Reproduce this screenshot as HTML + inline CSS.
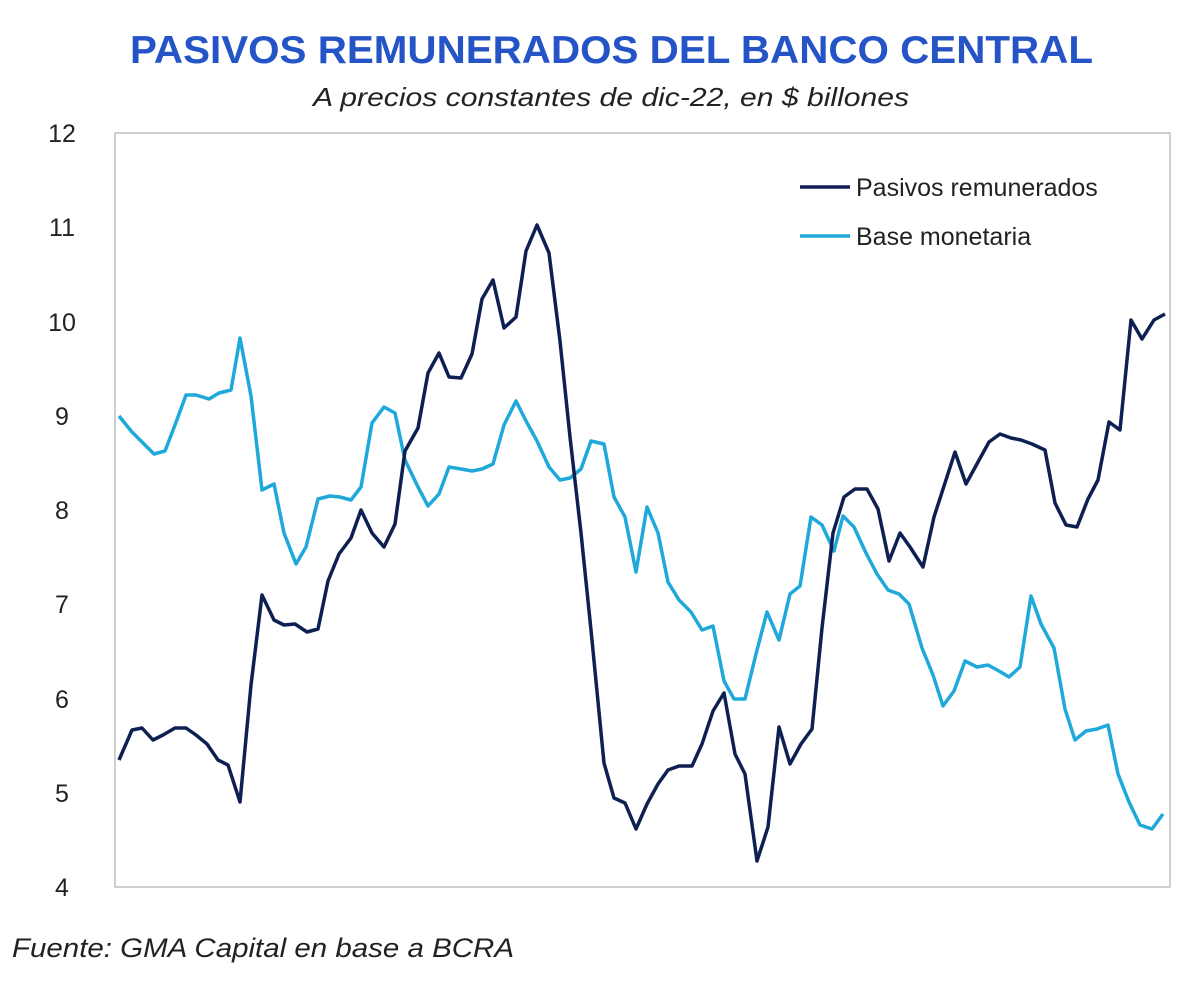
<!DOCTYPE html>
<html><head><meta charset="utf-8"><style>
html,body{margin:0;padding:0;background:#fff;}
svg{display:block;font-family:"Liberation Sans",sans-serif;}
</style></head><body>
<svg width="1200" height="985" viewBox="0 0 1200 985" xmlns="http://www.w3.org/2000/svg">
<rect width="1200" height="985" fill="#fff"/>
<text x="130" y="63" font-size="39" font-weight="bold" fill="#2454c6" textLength="963" lengthAdjust="spacingAndGlyphs">PASIVOS REMUNERADOS DEL BANCO CENTRAL</text>
<text x="313" y="106" font-size="26" font-style="italic" fill="#222" textLength="596" lengthAdjust="spacingAndGlyphs">A precios constantes de  dic-22, en $ billones</text>
<rect x="115" y="133" width="1055" height="754" fill="none" stroke="#d0d0d0" stroke-width="2"/>
<g font-size="25" fill="#222" text-anchor="middle">
<text x="62" y="142">12</text><text x="62" y="236">11</text><text x="62" y="331">10</text>
<text x="62" y="425">9</text><text x="62" y="519">8</text><text x="62" y="613">7</text>
<text x="62" y="708">6</text><text x="62" y="802">5</text><text x="62" y="896">4</text>
</g>
<polyline fill="none" stroke="#1fa8da" stroke-width="3.5" stroke-linejoin="round" points="119,416 132,432 144,444 154,454 165,451 175,425 186,395 196,395 209,399 219,393 231,390 240,338 251,396 262,490 274,484 284,533 296,564 306,547 318,499 330,496 340,497 351,500 361,487 372,423 384,407 395,413 405,460 418,487 428,506 439,494 449,467 461,469 472,471 482,469 493,464 504,425 516,401 526,421 537,441 549,467 560,480 570,478 581,469 591,441 604,444 614,497 625,517 636,572 647,507 658,533 668,582 679,600 691,612 702,630 713,626 724,681 734,699 745,699 756,654 767,612 779,640 790,594 800,586 811,517 822,525 834,551 843,516 854,527 866,553 877,574 888,590 899,594 909,604 922,648 933,675 943,706 954,691 965,661 977,667 988,665 999,671 1009,677 1020,667 1031,596 1041,624 1054,648 1065,709 1075,740 1086,731 1097,729 1108,725 1118,774 1129,802 1140,825 1152,829 1163,814"/>
<polyline fill="none" stroke="#0e1f52" stroke-width="3.5" stroke-linejoin="round" points="119,760 132,730 142,728 153,740 163,735 175,728 186,728 196,735 207,744 218,760 228,765 240,802 251,685 262,595 274,620 284,625 295,624 307,632 318,629 328,581 339,554 351,538 361,510 372,533 384,547 395,524 405,451 418,428 428,373 439,353 449,377 461,378 472,354 482,299 493,280 504,328 516,317 526,251 537,225 549,253 560,341 570,437 581,533 591,630 604,763 614,798 625,803 636,829 647,804 658,784 668,770 679,766 692,766 702,744 713,711 724,693 735,754 745,774 757,861 768,827 779,727 790,764 801,744 812,729 822,628 833,533 844,497 855,489 867,489 878,509 889,561 900,533 910,547 923,567 934,517 955,452 966,484 978,462 989,442 1000,434 1011,438 1021,440 1032,444 1045,450 1055,503 1066,525 1077,527 1088,499 1098,480 1109,422 1120,430 1131,320 1142,339 1154,320 1165,314"/>
<line x1="800" y1="187" x2="850" y2="187" stroke="#0e1f52" stroke-width="3.5"/>
<text x="856" y="196" font-size="25" fill="#222">Pasivos remunerados</text>
<line x1="800" y1="236" x2="850" y2="236" stroke="#1fa8da" stroke-width="3.5"/>
<text x="856" y="245" font-size="25" fill="#222">Base monetaria</text>
<text x="12" y="957" font-size="27" font-style="italic" fill="#222" textLength="502" lengthAdjust="spacingAndGlyphs">Fuente: GMA Capital en base a BCRA</text>
</svg>
</body></html>
